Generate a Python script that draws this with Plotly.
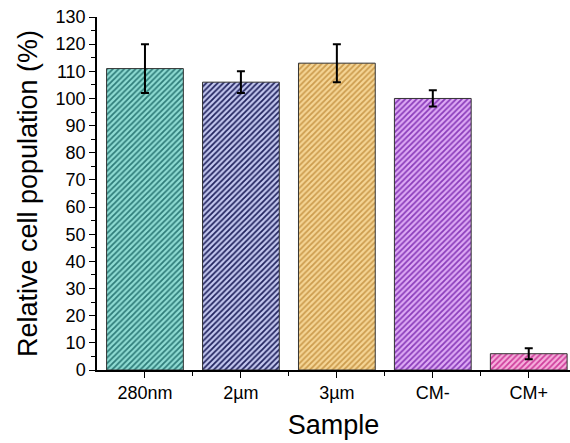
import plotly.graph_objects as go

categories = ["280nm", "2µm", "3µm", "CM-", "CM+"]
values = [111, 106, 113, 100, 6]
errors = [9, 4, 7, 3, 2]
bg_colors = ["#8fdcd3", "#c4c8f0", "#f5d595", "#deaaf5", "#f6aedc"]
fg_colors = ["#2f7d7a", "#22245f", "#cc9c4e", "#8a3cba", "#cf3f9c"]
y_ticks = list(range(0, 131, 10))

fig = go.Figure()
for i, cat in enumerate(categories):
    fig.add_trace(go.Bar(
        x=[i],
        y=[values[i]],
        width=0.8,
        marker=dict(
            color=bg_colors[i],
            line=dict(color="#333333", width=1),
            pattern=dict(shape="/", fgcolor=fg_colors[i], bgcolor=bg_colors[i],
                         fgopacity=1, size=4, solidity=0.45, fillmode="overlay"),
        ),
        error_y=dict(type="data", array=[errors[i]], visible=True,
                     color="black", thickness=2, width=4),
        showlegend=False,
    ))

fig.update_layout(
    width=570, height=443,
    margin=dict(l=97, r=0, t=17, b=73),
    paper_bgcolor="white", plot_bgcolor="white",
    font=dict(family="Liberation Sans, Arial, sans-serif", color="black"),
    xaxis=dict(
        range=[-0.5, 4.43],
        tickmode="array",
        tickvals=list(range(len(categories))),
        ticktext=categories,
        ticks="outside", ticklen=6, tickwidth=1.2, tickcolor="black",
        minor=dict(tickmode="array", tickvals=[0.5, 1.5, 2.5, 3.5],
                   ticks="outside", ticklen=4, tickwidth=1.2, tickcolor="black"),
        showline=True, linecolor="black", linewidth=1.5,
        showgrid=False, zeroline=False,
        tickfont=dict(size=18),
        title=dict(text="Sample", font=dict(size=27), standoff=13),
    ),
    yaxis=dict(
        range=[0, 130],
        tickmode="array",
        tickvals=y_ticks,
        ticks="outside", ticklen=6, tickwidth=1.2, tickcolor="black",
        minor=dict(dtick=5, ticks="outside", ticklen=4, tickwidth=1.2, tickcolor="black"),
        showline=True, linecolor="black", linewidth=1.5,
        showgrid=False, zeroline=False,
        tickfont=dict(size=18),
        title=dict(text="Relative cell population (%)", font=dict(size=27), standoff=10),
    ),
)

fig.write_html("out.html")
